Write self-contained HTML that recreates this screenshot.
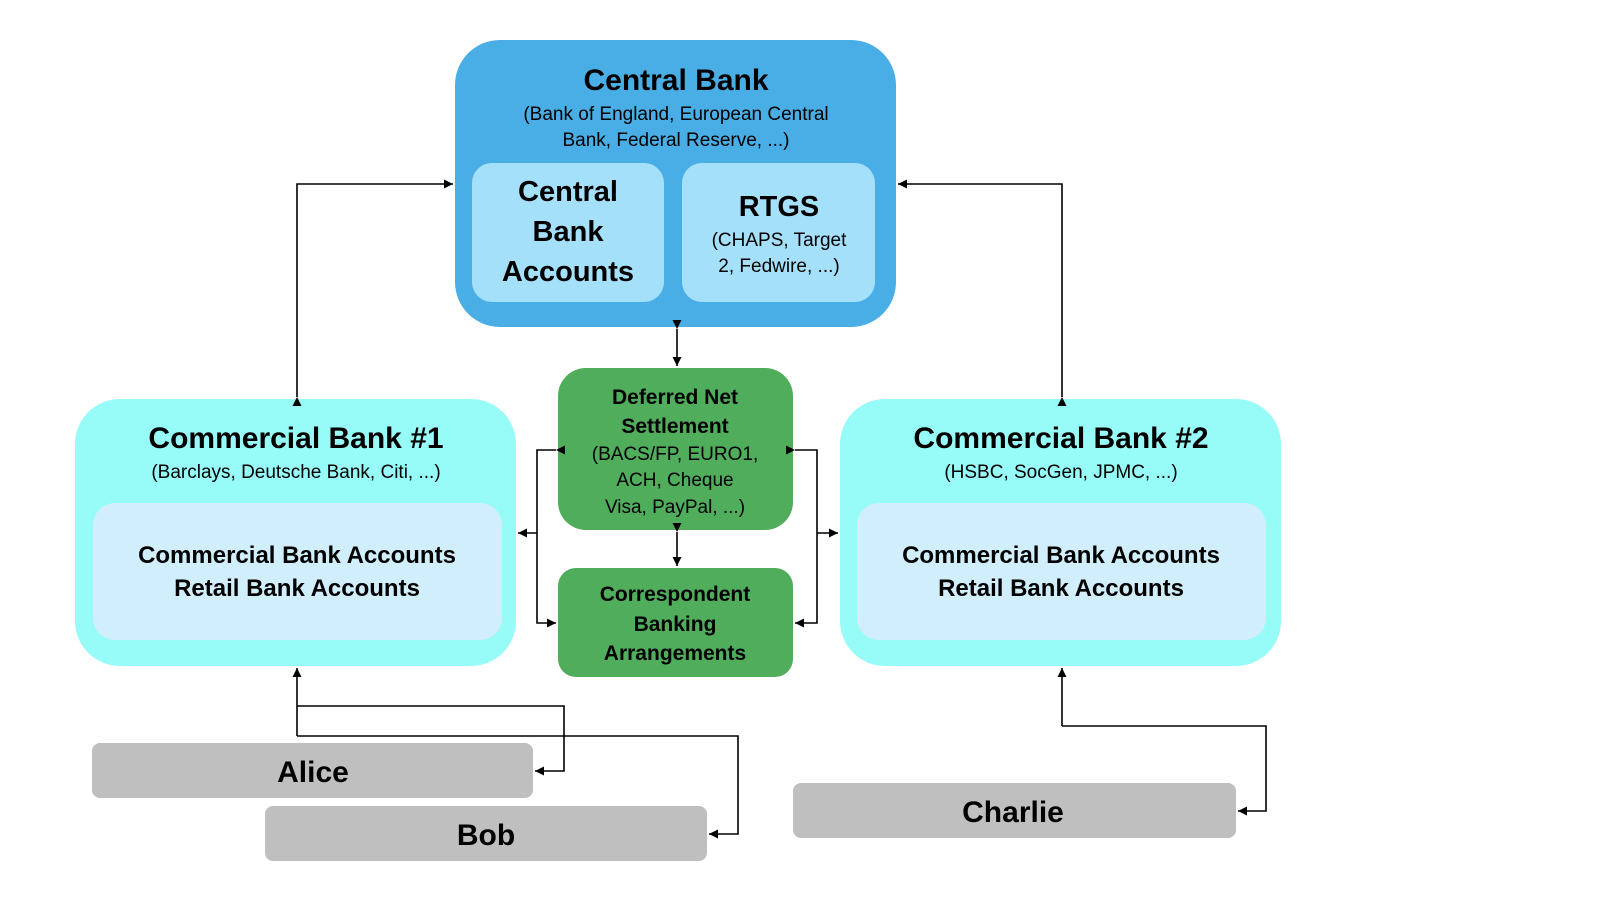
<!DOCTYPE html>
<html><head><meta charset="utf-8"><style>
html,body{margin:0;padding:0;background:#fff;width:1624px;height:922px;overflow:hidden}
svg text{font-family:"Liberation Sans",Arial,sans-serif;fill:#000;text-anchor:middle}
.b{font-weight:bold}
</style></head><body>
<svg width="1624" height="922" viewBox="0 0 1624 922" xmlns="http://www.w3.org/2000/svg">
<defs><marker id="a" viewBox="0 0 10 10" refX="10" refY="5" markerWidth="9" markerHeight="9" markerUnits="userSpaceOnUse" orient="auto"><path d="M0,0L10,5L0,10z" fill="#000"/></marker></defs>
<!-- Central bank -->
<rect x="455" y="40" width="441" height="287" rx="45" fill="#4aaee6"/>
<rect x="472" y="163" width="192" height="139" rx="20" fill="#a5e0fb"/>
<rect x="682" y="163" width="193" height="139" rx="20" fill="#a5e0fb"/>
<text x="676" y="90" class="b" font-size="30">Central Bank</text>
<text x="676" y="120" font-size="19">(Bank of England, European Central</text>
<text x="676" y="146" font-size="19">Bank, Federal Reserve, ...)</text>
<text x="568" y="201" class="b" font-size="29">Central</text>
<text x="568" y="241" class="b" font-size="29">Bank</text>
<text x="568" y="281" class="b" font-size="29">Accounts</text>
<text x="779" y="216" class="b" font-size="29">RTGS</text>
<text x="779" y="246" font-size="19">(CHAPS, Target</text>
<text x="779" y="272" font-size="19">2, Fedwire, ...)</text>
<!-- CB1 -->
<rect x="75" y="399" width="441" height="267" rx="45" fill="#97fbf7"/>
<rect x="93" y="503" width="409" height="137" rx="22" fill="#d0eefb"/>
<text x="296" y="448" class="b" font-size="30">Commercial Bank #1</text>
<text x="296" y="478" font-size="19">(Barclays, Deutsche Bank, Citi, ...)</text>
<text x="297" y="563" class="b" font-size="24">Commercial Bank Accounts</text>
<text x="297" y="596" class="b" font-size="24">Retail Bank Accounts</text>
<!-- CB2 -->
<rect x="840" y="399" width="441" height="267" rx="45" fill="#97fbf7"/>
<rect x="857" y="503" width="409" height="137" rx="22" fill="#d0eefb"/>
<text x="1061" y="448" class="b" font-size="30">Commercial Bank #2</text>
<text x="1061" y="478" font-size="19">(HSBC, SocGen, JPMC, ...)</text>
<text x="1061" y="563" class="b" font-size="24">Commercial Bank Accounts</text>
<text x="1061" y="596" class="b" font-size="24">Retail Bank Accounts</text>
<!-- Green -->
<rect x="558" y="368" width="235" height="162" rx="28" fill="#4fad5b"/>
<rect x="558" y="568" width="235" height="109" rx="18" fill="#4fad5b"/>
<text x="675" y="404" class="b" font-size="21">Deferred Net</text>
<text x="675" y="433" class="b" font-size="21">Settlement</text>
<text x="675" y="460" font-size="19">(BACS/FP, EURO1,</text>
<text x="675" y="486" font-size="19">ACH, Cheque</text>
<text x="675" y="513" font-size="19">Visa, PayPal, ...)</text>
<text x="675" y="601" class="b" font-size="21">Correspondent</text>
<text x="675" y="631" class="b" font-size="21">Banking</text>
<text x="675" y="660" class="b" font-size="21">Arrangements</text>
<!-- People -->
<rect x="92" y="743" width="441" height="55" rx="8" fill="#bfbfbf"/>
<rect x="265" y="806" width="442" height="55" rx="8" fill="#bfbfbf"/>
<rect x="793" y="783" width="443" height="55" rx="8" fill="#bfbfbf"/>
<text x="313" y="782" class="b" font-size="30">Alice</text>
<text x="486" y="845" class="b" font-size="30">Bob</text>
<text x="1013" y="822" class="b" font-size="30">Charlie</text>
<!-- connectors -->
<g stroke="#000" stroke-width="1.6" fill="none">
<path d="M297,397 V184 H453" marker-end="url(#a)" marker-start="url(#a)"/>
<path d="M1062,397 V184 H898" marker-end="url(#a)" marker-start="url(#a)"/>
<path d="M677,329 V366" marker-end="url(#a)" marker-start="url(#a)"/>
<path d="M677,532 V566" marker-end="url(#a)" marker-start="url(#a)"/>
<path d="M556,450 H537 V623 H556" marker-end="url(#a)" marker-start="url(#a)"/>
<path d="M537,533 H518" marker-end="url(#a)"/>
<path d="M795,450 H817 V623 H795" marker-end="url(#a)" marker-start="url(#a)"/>
<path d="M817,533 H838" marker-end="url(#a)"/>
<path d="M297,736 V668" marker-end="url(#a)"/>
<path d="M297,706 H564 V771 H535" marker-end="url(#a)"/>
<path d="M297,736 H738 V834 H709" marker-end="url(#a)"/>
<path d="M1062,726 V668" marker-end="url(#a)"/>
<path d="M1062,726 H1266 V811 H1238" marker-end="url(#a)"/>
</g>
</svg>
</body></html>
